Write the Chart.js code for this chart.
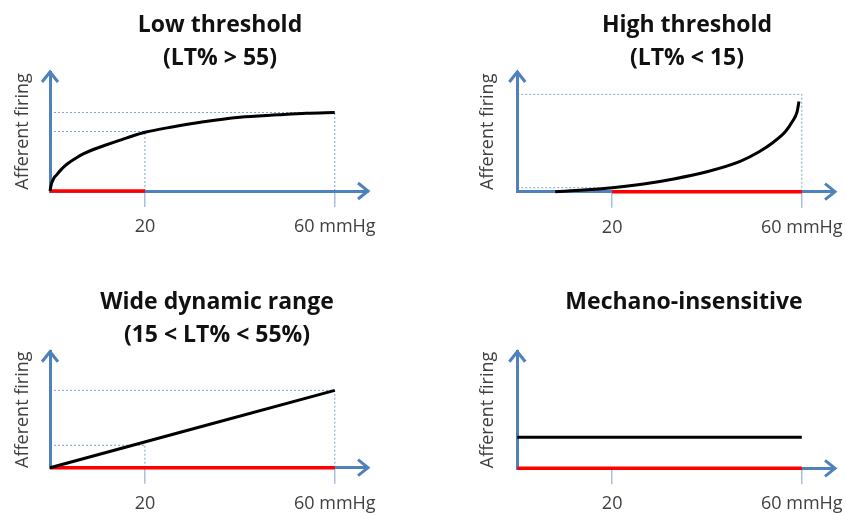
<!DOCTYPE html>
<html>
<head>
<meta charset="utf-8">
<script src="https://cdn.jsdelivr.net/npm/chart.js@4.4.0/dist/chart.umd.min.js"></script>
<style>
  html, body { margin: 0; padding: 0; background: #fff; }
  body { position: relative; width: 846px; height: 513px; overflow: hidden; }
  canvas { position: absolute; }
</style>
</head>
<body>
<canvas id="low" width="440" height="256" style="left:0px;top:0px"></canvas>
<canvas id="high" width="444" height="256" style="left:465px;top:0px"></canvas>
<canvas id="wide" width="434" height="245" style="left:0px;top:280px"></canvas>
<canvas id="insens" width="444" height="245" style="left:462px;top:280px"></canvas>
<script>
// shared axis text
const xTicks = [20, 60];
const xTickLabels = ['20', '60 mmHg'];
const yLabel = 'Afferent firing';

// low threshold
const lowTitle = ['Low threshold', '(LT% > 55)'];
const lowX = [0, 0.3, 0.8, 1.5, 2.2, 3.2, 4.3, 5.6, 7.1, 9, 11.3, 13.7, 16.2, 20, 26, 32, 40, 48, 54, 60];
const lowY = [0, 0.09, 0.16, 0.21, 0.26, 0.32, 0.37, 0.42, 0.47, 0.52, 0.57, 0.62, 0.67, 0.74, 0.81, 0.87, 0.93, 0.96, 0.98, 0.99];
const lowRed = [0, 20];
const lowGuideX = [20, 60];
const lowGuideY = [0.75, 0.99];

// high threshold
const highTitle = ['High threshold', '(LT% < 15)'];
const highX = [8, 14, 20, 27, 33, 40, 47, 51, 54, 56.5, 58, 59, 59.4];
const highY = [0, 0.02, 0.05, 0.1, 0.16, 0.25, 0.38, 0.5, 0.62, 0.75, 0.88, 1.0, 1.13];
const highRed = [20, 60];
const highGuideX = [20, 60];
const highGuideY = [0.05, 1.22];

// wide dynamic range
const wideTitle = ['Wide dynamic range', '(15 < LT% < 55%)'];
const wideX = [0, 60];
const wideY = [0, 1.0];
const wideRed = [0, 60];
const wideGuideX = [20, 60];
const wideGuideY = [0.29, 1.0];

// mechano-insensitive
const insensTitle = 'Mechano-insensitive';
const insensX = [0, 60];
const insensY = [0.4, 0.4];
const insensRed = [0, 60];

const AXIS_BLUE = '#4f81bd';
const FONT = "'Open Sans', 'DejaVu Sans', sans-serif";

function pts(xs, ys) {
  return xs.map((x, i) => ({ x: x, y: ys[i] }));
}

function curve(xs, ys) {
  return { data: pts(xs, ys), borderColor: '#000', borderWidth: 3, pointRadius: 0,
           cubicInterpolationMode: 'monotone', clip: false };
}

function red(range) {
  return { data: pts(range, [0, 0]), borderColor: '#ff0000', borderWidth: 3.5,
           pointRadius: 0, clip: false };
}

function guides(gx, gy) {
  const style = { borderColor: 'rgba(79,129,189,0.75)', borderWidth: 1, borderDash: [2, 2],
                  pointRadius: 0, clip: false };
  const sets = [];
  gx.forEach((x, i) => {
    sets.push(Object.assign({ data: pts([x, x], [0, gy[i]]) }, style));
    sets.push(Object.assign({ data: pts([0, x], [gy[i], gy[i]]) }, style));
  });
  return sets;
}

const arrowPlugin = {
  id: 'arrows',
  afterDatasetsDraw(chart) {
    const { ctx, chartArea: a } = chart;
    ctx.save();
    ctx.strokeStyle = AXIS_BLUE;
    ctx.lineWidth = 3;
    ctx.beginPath();
    ctx.moveTo(a.right - 10, a.bottom - 8);
    ctx.lineTo(a.right, a.bottom);
    ctx.lineTo(a.right - 10, a.bottom + 8);
    ctx.moveTo(a.left - 8, a.top + 10);
    ctx.lineTo(a.left, a.top);
    ctx.lineTo(a.left + 8, a.top + 10);
    ctx.stroke();
    ctx.restore();
  }
};

function makeChart(id, p) {
  new Chart(document.getElementById(id), {
    type: 'line',
    data: { datasets: p.datasets },
    options: {
      responsive: false,
      animation: false,
      layout: { padding: { left: 0, right: 0, top: 0, bottom: p.padBottom } },
      plugins: {
        legend: { display: false },
        tooltip: { enabled: false },
        title: {
          display: true,
          text: p.title,
          color: '#111',
          font: { family: FONT, weight: 'bold', size: 23, lineHeight: 33 / 23 },
          padding: p.titlePad
        }
      },
      scales: {
        x: {
          type: 'linear', min: 0, max: 67,
          afterBuildTicks: (s) => { s.ticks = xTicks.map(v => ({ value: v })); },
          ticks: {
            color: '#404040', padding: 9,
            font: { family: FONT, size: 18 },
            callback: (v) => xTickLabels[xTicks.indexOf(v)]
          },
          grid: { display: true, drawOnChartArea: false, drawTicks: true, tickLength: 16,
                  color: '#a9bfdc', lineWidth: 1.5 },
          border: { display: true, color: AXIS_BLUE, width: 3 }
        },
        y: {
          type: 'linear', min: 0, max: 1.5,
          ticks: { display: false },
          grid: { display: false, drawTicks: false },
          border: { display: true, color: AXIS_BLUE, width: 3 },
          title: {
            display: true, text: yLabel, color: '#404040',
            font: { family: FONT, size: 18 },
            padding: p.yPad
          }
        },
        // empty right axis only reserves space so the title stays centred on the canvas
        yRight: {
          type: 'linear', position: 'right', min: 0, max: 1,
          ticks: { display: false },
          grid: { display: false, drawTicks: false },
          border: { display: false },
          afterFit: (s) => { s.width = p.rightGap; }
        }
      }
    },
    plugins: [arrowPlugin]
  });
}

makeChart('low', {
  title: lowTitle,
  titlePad: { top: 8.5, bottom: -2.5 },
  yPad: { top: 12.2, bottom: 16.2 },
  rightGap: 72, padBottom: 9.4,
  datasets: [curve(lowX, lowY), red(lowRed)].concat(guides(lowGuideX, lowGuideY))
});

makeChart('high', {
  title: highTitle,
  titlePad: { top: 8.5, bottom: -2.5 },
  yPad: { top: 12.2, bottom: 18.5 },
  rightGap: 74, padBottom: 8.7,
  datasets: [curve(highX, highY), red(highRed)].concat(guides(highGuideX, highGuideY))
});

makeChart('wide', {
  title: wideTitle,
  titlePad: { top: 5.5, bottom: 0.2 },
  yPad: { top: 12.2, bottom: 16.2 },
  rightGap: 66, padBottom: 1.7,
  datasets: [curve(wideX, wideY), red(wideRed)].concat(guides(wideGuideX, wideGuideY))
});

makeChart('insens', {
  title: insensTitle,
  titlePad: { top: 6, bottom: 32.7 },
  yPad: { top: 15.2, bottom: 18.5 },
  rightGap: 71, padBottom: 1.1,
  datasets: [curve(insensX, insensY), red(insensRed)]
});
</script>
</body>
</html>
